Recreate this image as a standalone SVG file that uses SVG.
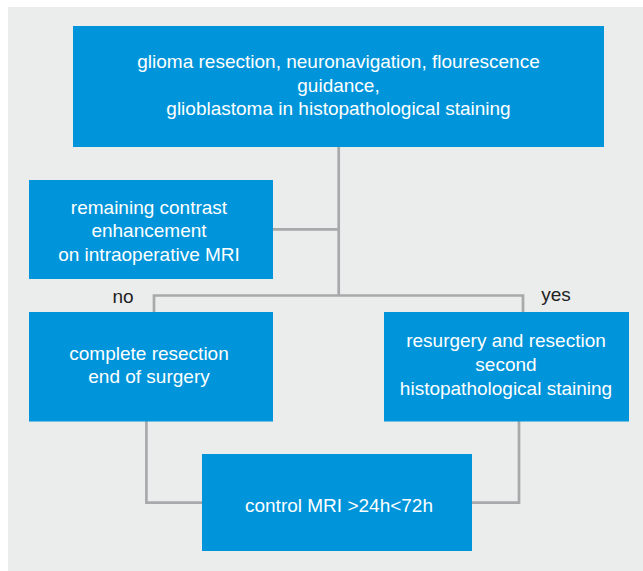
<svg xmlns="http://www.w3.org/2000/svg" width="643" height="571" viewBox="0 0 643 571">
<style>
.box{fill:#0095DA}
.t{font-family:"Liberation Sans",Arial,sans-serif;font-size:19px;fill:#ffffff;text-anchor:middle}
.lbl{font-family:"Liberation Sans",Arial,sans-serif;font-size:19px;fill:#222222;text-anchor:middle}
.c{fill:none;stroke:#A8A9AB;stroke-width:2.7}
</style>
<rect x="8" y="7" width="635" height="564" fill="#EBECEC"/>
<g id="connectors">
<path class="c" d="M338.7 146 V295.5"/>
<path class="c" d="M273 229.3 H338.7"/>
<path class="c" d="M154 312 V295.5 H523 V312"/>
<path class="c" d="M146.4 421 V502.7 H202"/>
<path class="c" d="M519 421 V502.7 H472"/>
</g>
<g id="label-no"><text class="lbl" x="123" y="303">no</text></g>
<g id="label-yes"><text class="lbl" x="556" y="301">yes</text></g>
<g id="n1">
<rect class="box" x="73" y="26" width="531" height="121"/>
<text class="t" x="338.5" y="68">glioma resection, neuronavigation, flourescence</text>
<text class="t" x="338.5" y="91.5">guidance,</text>
<text class="t" x="338.5" y="115">glioblastoma in histopathological staining</text>
</g>
<g id="n2">
<rect class="box" x="29" y="180" width="244" height="99"/>
<text class="t" x="149" y="213.5">remaining contrast</text>
<text class="t" x="149" y="237">enhancement</text>
<text class="t" x="149" y="260.5">on intraoperative MRI</text>
</g>
<g id="n3">
<rect class="box" x="29" y="312" width="244" height="109.5"/>
<text class="t" x="149" y="360">complete resection</text>
<text class="t" x="149" y="383">end of surgery</text>
</g>
<g id="n4">
<rect class="box" x="384" y="312" width="245" height="109.5"/>
<text class="t" x="506" y="347">resurgery and resection</text>
<text class="t" x="506" y="370.5">second</text>
<text class="t" x="506" y="394.5">histopathological staining</text>
</g>
<g id="n5">
<rect class="box" x="202" y="454" width="270" height="97"/>
<text class="t" x="339" y="512">control MRI &gt;24h&lt;72h</text>
</g>
</svg>
